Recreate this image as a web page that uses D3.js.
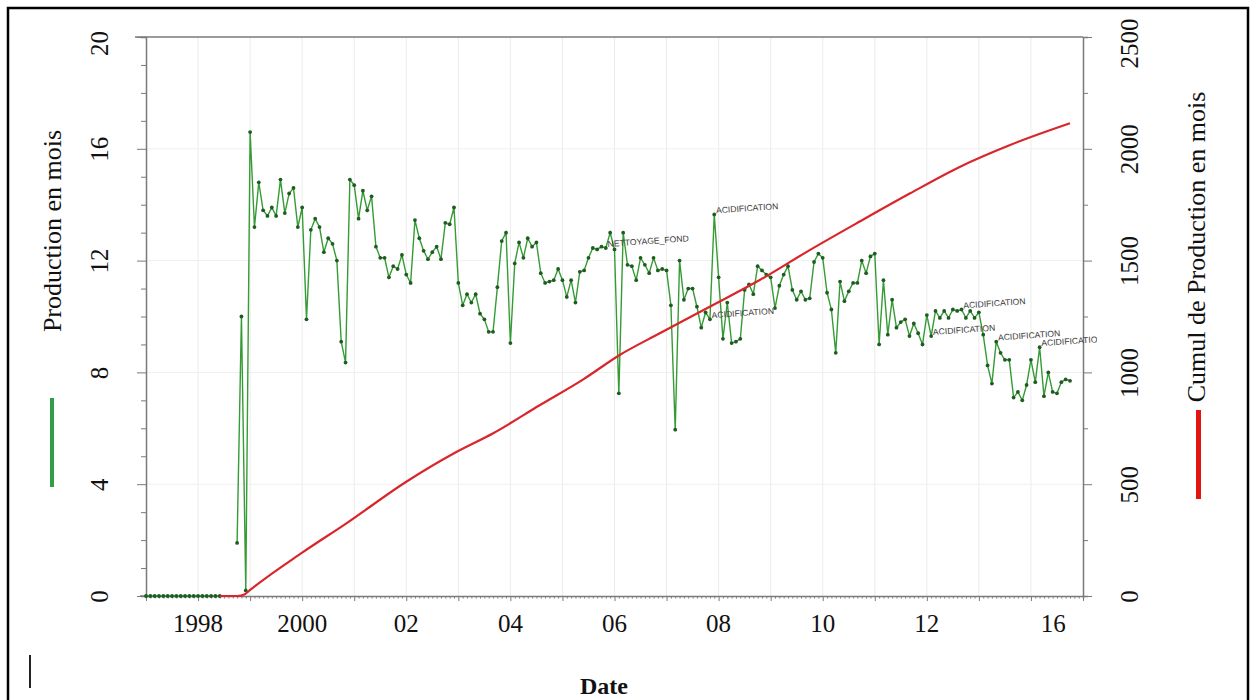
<!DOCTYPE html>
<html>
<head>
<meta charset="utf-8">
<script src="https://d3js.org/d3.v7.min.js"></script>
<style>
  body { margin: 0; background: #fff; }
  svg { display: block; }
</style>
</head>
<body>
<svg id="chart" width="1256" height="700"></svg>
<script>
// monthly production, first value is Jan 1997 (null = no record)
const prodStartYear = 1997;
const production = [
  0, 0, 0, 0, 0, 0, 0, 0, 0, 0, 0, 0,
  0, 0, 0, 0, 0, 0, null, null, null, 1.9, 10.0, 0.2,
  16.6, 13.2, 14.8, 13.8, 13.6, 13.9, 13.6, 14.9, 13.7, 14.4, 14.6, 13.2,
  13.9, 9.9, 13.1, 13.5, 13.2, 12.3, 12.8, 12.6, 12.0, 9.1, 8.35, 14.9,
  14.7, 13.5, 14.5, 13.8, 14.3, 12.5, 12.1, 12.1, 11.4, 11.8, 11.7, 12.2,
  11.5, 11.2, 13.45, 12.8, 12.35, 12.05, 12.3, 12.5, 12.05, 13.35, 13.3, 13.9,
  11.2, 10.4, 10.8, 10.5, 10.8, 10.1, 9.9, 9.45, 9.45, 11.05, 12.7, 13.0,
  9.05, 11.9, 12.65, 12.1, 12.8, 12.5, 12.65, 11.55, 11.2, 11.25, 11.3, 11.7,
  11.3, 10.7, 11.3, 10.5, 11.6, 11.65, 12.1, 12.45, 12.4, 12.5, 12.45, 13.0,
  12.4, 7.25, 13.0, 11.85, 11.8, 11.3, 12.1, 11.85, 11.55, 12.1, 11.65, 11.7,
  11.65, 10.4, 5.95, 12.0, 10.6, 11.0, 11.0, 10.35, 9.6, 10.15, 9.9, 13.65,
  11.4, 9.2, 10.5, 9.05, 9.1, 9.2, 10.95, 11.15, 10.8, 11.8, 11.65, 11.5,
  11.4, 10.3, 11.1, 11.5, 11.8, 10.95, 10.6, 10.9, 10.6, 10.65, 11.95, 12.25,
  12.1, 10.85, 10.25, 8.7, 11.25, 10.55, 10.9, 11.2, 11.2, 12.0, 11.55, 12.15,
  12.25, 9.0, 11.3, 9.35, 10.6, 9.6, 9.8, 9.9, 9.3, 9.75, 9.4, 9.0,
  10.05, 9.3, 10.2, 9.95, 10.2, 9.95, 10.25, 10.2, 10.25, 9.95, 10.2, 9.95,
  10.15, 9.35, 8.25, 7.6, 9.1, 8.7, 8.45, 8.45, 7.1, 7.3, 7.0, 7.55,
  8.45, 7.65, 8.9, 7.15, 8.0, 7.3, 7.25, 7.65, 7.75, 7.7
];

// cumulative production
const cumYears = [1998.42, 1998.75, 1998.9, 1999.0, 2000.0, 2000.85, 2002.0, 2002.97, 2003.67, 2004.57,
  2005.4, 2006.1, 2006.87, 2007.83, 2008.79, 2009.75, 2010.72, 2011.68, 2012.64, 2013.6, 2014.75];
const cumValues = [0, 0, 8, 27, 194, 325, 511, 645, 728, 854,
  969, 1078, 1175, 1294, 1413, 1547, 1676, 1801, 1920, 2017, 2114];

// event markers
const eventMonths = ["2005-11", "2007-12", "2007-11", "2012-02", "2012-09", "2013-05", "2014-03"];
const eventLabels = ["NETTOYAGE_FOND", "ACIDIFICATION", "ACIDIFICATION", "ACIDIFICATION",
  "ACIDIFICATION", "ACIDIFICATION", "ACIDIFICATION"];

// axis ticks
const xLabelYears = [1998, 2000, 2002, 2004, 2006, 2008, 2010, 2012, 2014.43];
const xLabels = ["1998", "2000", "02", "04", "06", "08", "10", "12", "16"];
const leftTicks = [0, 4, 8, 12, 16, 20];
const rightTicks = [0, 500, 1000, 1500, 2000, 2500];

const svg = d3.select("#chart");
const serif = "'Liberation Serif', 'Times New Roman', serif";
const axisColor = "#7a7a7a";

const x = d3.scaleLinear().domain([1997, 2015]).range([146, 1083]);
const yL = d3.scaleLinear().domain([0, 20]).range([596, 37]);
const yR = d3.scaleLinear().domain([0, 2500]).range([596, 37]);

const prodData = production.map((v, i) => ({ t: prodStartYear + i / 12, v: v }));
const cumData = cumYears.map((t, i) => ({ t: t, v: cumValues[i] }));

// outer frame
svg.append("rect")
  .attr("x", 8).attr("y", 8).attr("width", 1240).attr("height", 720)
  .attr("fill", "none").attr("stroke", "#000").attr("stroke-width", 2.5);

svg.append("clipPath").attr("id", "labelClip")
  .append("rect").attr("x", 0).attr("y", 0).attr("width", 1097).attr("height", 700);

// grid
svg.append("g").selectAll("line")
  .data(d3.range(1998, 2015))
  .join("line")
  .attr("x1", d => x(d)).attr("x2", d => x(d))
  .attr("y1", yL(20)).attr("y2", yL(0))
  .attr("stroke", "#ececec");

svg.append("g").selectAll("line")
  .data([4, 8, 12, 16])
  .join("line")
  .attr("x1", x(1997)).attr("x2", x(2015))
  .attr("y1", d => yL(d)).attr("y2", d => yL(d))
  .attr("stroke", "#efefef");

// top border of plot
svg.append("line")
  .attr("x1", 135).attr("x2", x(2015))
  .attr("y1", yL(20)).attr("y2", yL(20))
  .attr("stroke", axisColor).attr("stroke-width", 1.5);

// left axis
const gL = svg.append("g").attr("transform", `translate(${x(1997)},0)`);
gL.call(d3.axisLeft(yL).tickValues(d3.range(0, 21)).tickSizeOuter(0)
  .tickSize(5).tickFormat(d => leftTicks.includes(d) ? d : ""));
gL.selectAll(".tick line")
  .attr("x2", d => leftTicks.includes(d) ? -9 : -5);
gL.selectAll(".tick text")
  .attr("transform", "rotate(-90)")
  .attr("x", d => d === 20 ? -6 : 0).attr("y", -38).attr("dy", 0)
  .attr("text-anchor", "middle")
  .style("font-family", serif).style("font-size", "25px").attr("fill", "#111");

// right axis
const gR = svg.append("g").attr("transform", `translate(${x(2015)},0)`);
gR.call(d3.axisRight(yR).tickValues(d3.range(0, 2501, 250)).tickSizeOuter(0)
  .tickSize(5).tickFormat(d => rightTicks.includes(d) ? d : ""));
gR.selectAll(".tick line")
  .attr("x2", d => rightTicks.includes(d) ? 9 : 5);
gR.selectAll(".tick text")
  .attr("transform", "rotate(-90)")
  .attr("x", d => d === 2500 ? -6 : 0).attr("y", 55).attr("dy", 0)
  .attr("text-anchor", "middle")
  .style("font-family", serif).style("font-size", "25px").attr("fill", "#111");

[gL, gR].forEach(g => g.select(".domain").attr("stroke", axisColor).attr("stroke-width", 1.5));
[gL, gR].forEach(g => g.selectAll(".tick line").attr("stroke", axisColor));

// bottom axis: yearly ticks and monthly minor ticks
const gB = svg.append("g").attr("transform", `translate(0,${yL(0)})`);
gB.call(d3.axisBottom(x).tickValues(d3.range(1997, 2015.01, 1 / 12)).tickSizeOuter(0)
  .tickSize(2.5).tickFormat(""));
gB.selectAll(".tick line")
  .attr("y2", (d, i) => i % 12 === 0 ? 5 : 2.5)
  .attr("stroke", axisColor);
gB.select(".domain").attr("stroke", axisColor).attr("stroke-width", 1.5);
gB.append("line")
  .attr("x1", 140).attr("x2", x(1997)).attr("stroke", axisColor).attr("stroke-width", 1.5);

svg.append("g").selectAll("text")
  .data(xLabelYears)
  .join("text")
  .attr("x", d => x(d)).attr("y", 632)
  .attr("text-anchor", "middle")
  .style("font-family", serif).style("font-size", "25px").attr("fill", "#111")
  .text((d, i) => xLabels[i]);

// axis titles and legend swatches
svg.append("text")
  .attr("transform", "translate(61,231) rotate(-90)")
  .attr("text-anchor", "middle")
  .style("font-family", serif).style("font-size", "26px").attr("fill", "#111")
  .text("Production en mois");

svg.append("text")
  .attr("transform", "translate(1205,247) rotate(-90)")
  .attr("text-anchor", "middle")
  .style("font-family", serif).style("font-size", "26px").attr("fill", "#111")
  .text("Cumul de Production en mois");

svg.append("rect").attr("x", 50).attr("y", 398).attr("width", 4).attr("height", 89).attr("fill", "#2f9e44");
svg.append("rect").attr("x", 1196).attr("y", 410).attr("width", 5).attr("height", 89).attr("fill", "#e3160f");
svg.append("rect").attr("x", 29).attr("y", 655).attr("width", 2).attr("height", 33).attr("fill", "#222");

svg.append("text")
  .attr("x", 604).attr("y", 694)
  .attr("text-anchor", "middle")
  .style("font-family", serif).style("font-size", "24px").style("font-weight", "bold").attr("fill", "#111")
  .text("Date");

// production line
const prodLine = d3.line()
  .defined(d => d.v !== null)
  .x(d => x(d.t)).y(d => yL(d.v));

svg.append("path")
  .datum(prodData)
  .attr("d", prodLine)
  .attr("fill", "none").attr("stroke", "#359b35").attr("stroke-width", 1.4);

svg.append("g").selectAll("circle")
  .data(prodData.filter(d => d.v !== null))
  .join("circle")
  .attr("cx", d => x(d.t)).attr("cy", d => yL(d.v))
  .attr("r", 1.9)
  .attr("fill", "#1f5c22");

// cumulative line
svg.append("path")
  .datum(cumData)
  .attr("d", d3.line().curve(d3.curveMonotoneX).x(d => x(d.t)).y(d => yR(d.v)))
  .attr("fill", "none").attr("stroke", "#d8262b").attr("stroke-width", 2.2);

// event labels
const events = eventMonths.map((m, i) => {
  const [yy, mm] = m.split("-").map(Number);
  const idx = (yy - prodStartYear) * 12 + (mm - 1);
  return { d: prodData[idx], label: eventLabels[i] };
});

svg.append("g").attr("clip-path", "url(#labelClip)")
  .selectAll("text")
  .data(events)
  .join("text")
  .attr("transform", e => `translate(${x(e.d.t)},${yL(e.d.v)}) rotate(-4)`)
  .attr("x", 2).attr("y", -1)
  .style("font-family", "'Liberation Sans', Arial, sans-serif").style("font-size", "8.6px")
  .attr("fill", "#3a3a3a")
  .text(e => e.label);
</script>
</body>
</html>
